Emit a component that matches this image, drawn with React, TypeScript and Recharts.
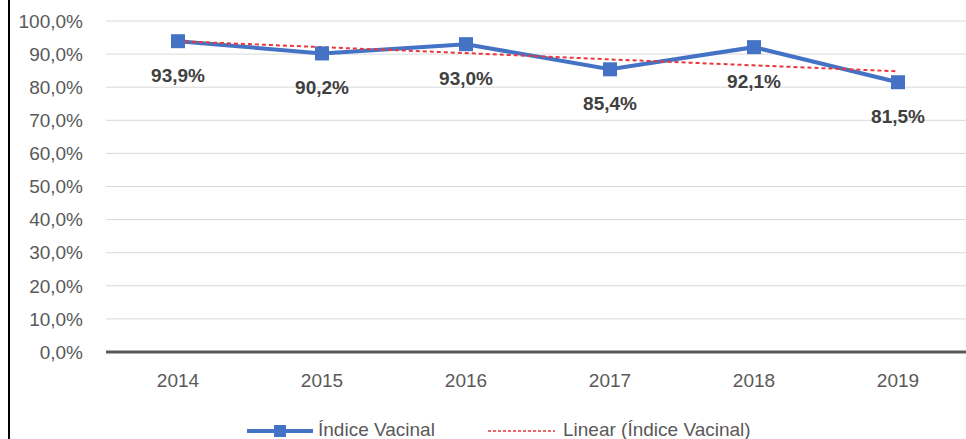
import { LineChart, Line, XAxis, YAxis, CartesianGrid, Legend, LabelList } from "recharts"

const years = ["2014", "2015", "2016", "2017", "2018", "2019"]
const indice = [93.9, 90.2, 93.0, 85.4, 92.1, 81.5]
// linear trend
const trend = [93.9, 92.1, 90.3, 88.4, 86.6, 84.8]
const yTicks = [0, 10, 20, 30, 40, 50, 60, 70, 80, 90, 100]

const data = years.map((y, i) => ({ year: y, indice: indice[i], trend: trend[i] }))

const pct = (v: number) => v.toFixed(1).replace(".", ",") + "%"

const FONT = "'Liberation Sans', Arial, sans-serif"

const PointLabel = (props: any) => {
  const { x, y, value } = props
  return (
    <text x={x} y={y + 34} textAnchor="middle" dominantBaseline="central"
      fontSize={19} fontWeight="bold" fill="#404040" fontFamily={FONT}>
      {pct(value)}
    </text>
  )
}

const MyLegend = () => (
  <div style={{ position: "relative", height: 30, fontFamily: FONT, fontSize: 19, color: "#595959" }}>
    <svg width={66} height={30} style={{ position: "absolute", left: 237, top: 0 }}>
      <line x1={0} y1={15} x2={66} y2={15} stroke="#4472C4" strokeWidth={4} />
      <rect x={27} y={9} width={12} height={12} fill="#4472C4" />
    </svg>
    <span style={{ position: "absolute", left: 308, top: 3, whiteSpace: "nowrap" }}>Índice Vacinal</span>
    <svg width={67} height={30} style={{ position: "absolute", left: 478, top: 0 }}>
      <line x1={0} y1={15} x2={67} y2={15} stroke="#E8383D" strokeWidth={1.5} strokeDasharray="3 2" />
    </svg>
    <span style={{ position: "absolute", left: 553, top: 3, whiteSpace: "nowrap" }}>Linear (Índice Vacinal)</span>
  </div>
)

export default function App() {
  return (
    <div style={{
      position: "absolute", left: 8, top: 0, width: 958, height: 439, overflow: "hidden",
      borderLeft: "2px solid #000", boxSizing: "border-box", background: "#fff", fontFamily: FONT,
    }}>
      <LineChart width={962} height={450} data={data} margin={{ top: 21, right: 2, bottom: 4, left: 0 }}>
        <CartesianGrid vertical={false} stroke="#d9d9d9" />
        <XAxis dataKey="year" axisLine={{ stroke: "#595959", strokeWidth: 3 }} tickLine={false}
          tickSize={0} tickMargin={22} height={64} padding={{ left: 72, right: 72 }}
          tick={{ fill: "#595959", fontSize: 19, fontFamily: FONT }} />
        <YAxis domain={[0, 100]} ticks={yTicks} tickFormatter={pct} axisLine={false} tickLine={false}
          tickSize={0} tickMargin={23} width={96} interval={0}
          tick={{ fill: "#595959", fontSize: 19, fontFamily: FONT }} />
        <Legend verticalAlign="bottom" align="left" content={<MyLegend />} />
        <Line dataKey="indice" stroke="#4472C4" strokeWidth={4} isAnimationActive={false}
          dot={(p: any) => <rect key={p.index} x={p.cx - 7} y={p.cy - 7} width={14} height={14} fill="#4472C4" />}
          activeDot={false}>
          <LabelList dataKey="indice" content={<PointLabel />} />
        </Line>
        <Line dataKey="trend" stroke="#E8383D" strokeWidth={2} strokeDasharray="4 3" dot={false}
          activeDot={false} isAnimationActive={false} />
      </LineChart>
    </div>
  )
}
